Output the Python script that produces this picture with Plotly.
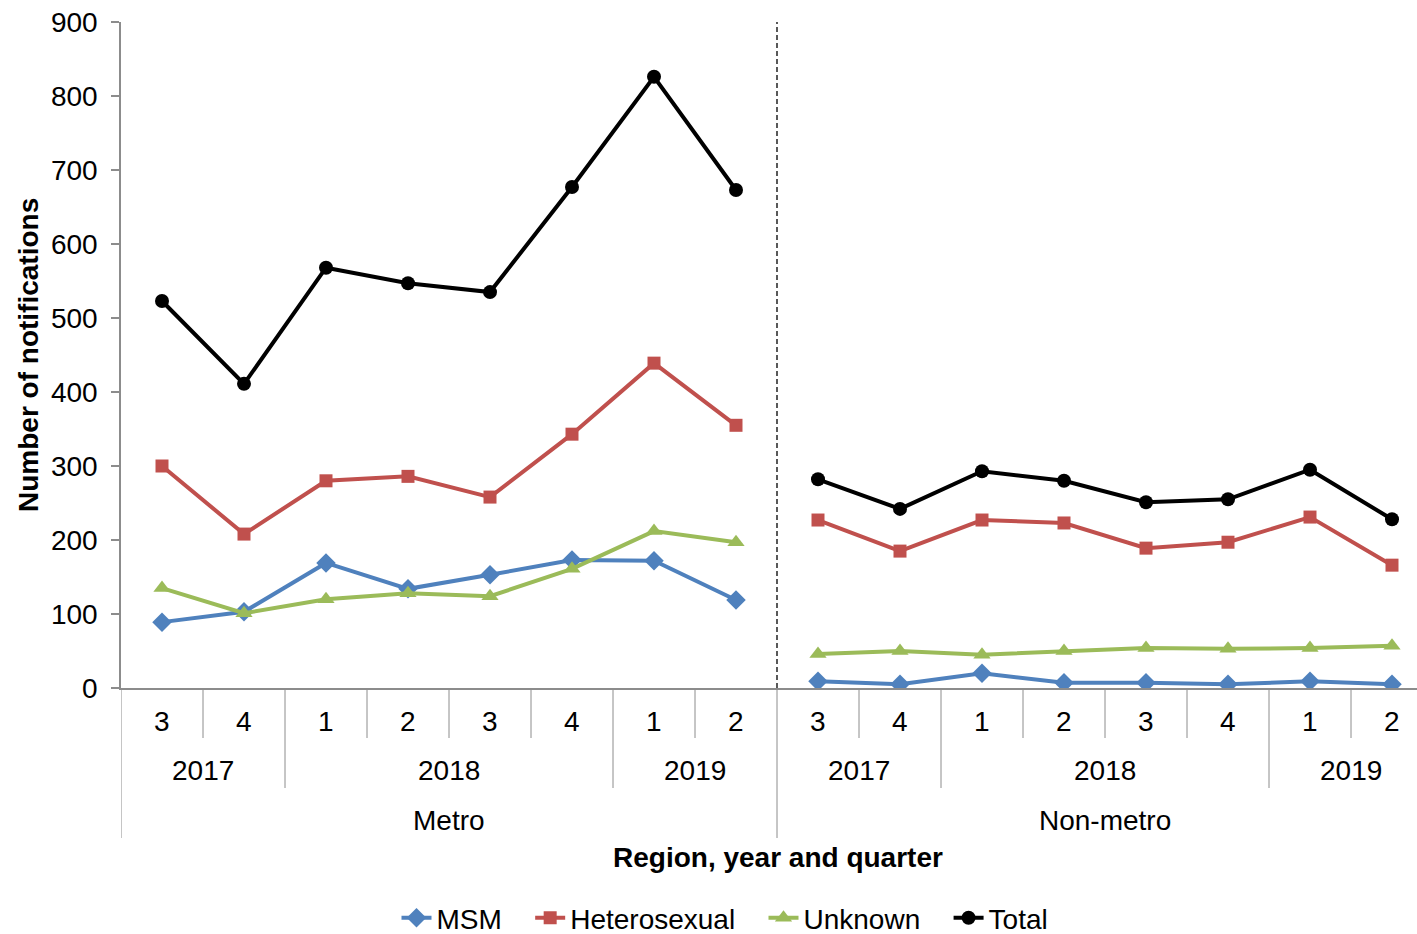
import plotly.graph_objects as go

# Quarterly notifications by region, year and quarter
regions = ["Metro", "Non-metro"]
years = ["2017", "2018", "2019"]
quarters = ["3", "4", "1", "2", "3", "4", "1", "2",
            "3", "4", "1", "2", "3", "4", "1", "2"]
quarter_years = ["2017", "2017", "2018", "2018", "2018", "2018", "2019", "2019"] * 2
quarter_regions = ["Metro"] * 8 + ["Non-metro"] * 8

msm = [89, 103, 169, 134, 153, 173, 172, 119,
       9, 5, 20, 7, 7, 5, 9, 5]
heterosexual = [300, 208, 280, 286, 258, 343, 439, 355,
                227, 185, 227, 223, 189, 197, 231, 166]
unknown = [135, 101, 120, 128, 124, 161, 212, 197,
           46, 50, 45, 50, 54, 53, 54, 57]
total = [523, 411, 568, 547, 535, 677, 826, 673,
         282, 242, 293, 280, 251, 255, 295, 228]

series = [
    ("MSM", msm, "#4F81BD", "diamond", 15),
    ("Heterosexual", heterosexual, "#C0504D", "square", 13),
    ("Unknown", unknown, "#9BBB59", "triangle-up", 15),
    ("Total", total, "#000000", "circle", 14),
]

FONT = "Liberation Sans, Arial, sans-serif"
FS = 28
AXIS_GREY = "#8C8C8C"
W, H = 1417, 934
M_L, M_T, M_B = 121, 22, 246
PLOT_W = W - M_L
PLOT_H = H - M_T - M_B
SPACING = 82.0  # pixels per category
AXIS_Y = H - M_B
NBSP = "\u00a0"

fig = go.Figure()

# one broken line per region so the two panels are not joined
for k, (name, vals, color, symbol, size) in enumerate(series):
    xs, ys = [], []
    for i, v in enumerate(vals):
        if i == 8:
            xs.append(None)
            ys.append(None)
        xs.append(i)
        ys.append(v)
    label = name if k == len(series) - 1 else name + NBSP * 3
    fig.add_trace(go.Scatter(
        x=xs, y=ys, name=label, mode="lines+markers",
        line=dict(color=color, width=4),
        marker=dict(symbol=symbol, size=size, color=color),
        connectgaps=False,
    ))


def py(pixels_below_axis):
    """Paper y coordinate for a distance in pixels below the x axis."""
    return -pixels_below_axis / PLOT_H


def px_x(pixel):
    return (pixel - M_L) / PLOT_W


def px_y(pixel):
    return (AXIS_Y - pixel) / PLOT_H


shapes = []
annotations = []
n = len(quarters)

# quarter separators
for i in range(n):
    b = i - 0.5
    shapes.append(dict(type="line", xref="x", yref="paper", x0=b, x1=b,
                       y0=0, y1=py(50), line=dict(color=AXIS_GREY, width=1)))

# year separators
for i in range(1, n):
    if quarter_years[i] != quarter_years[i - 1] or quarter_regions[i] != quarter_regions[i - 1]:
        b = i - 0.5
        shapes.append(dict(type="line", xref="x", yref="paper", x0=b, x1=b,
                           y0=py(50), y1=py(100), line=dict(color=AXIS_GREY, width=1)))

# region separators
for b in (-0.5, 7.5):
    shapes.append(dict(type="line", xref="x", yref="paper", x0=b, x1=b,
                       y0=py(100), y1=py(150), line=dict(color=AXIS_GREY, width=1)))
shapes.append(dict(type="line", xref="x", yref="paper", x0=-0.5, x1=-0.5,
                   y0=py(50), y1=py(100), line=dict(color=AXIS_GREY, width=1)))

# small tick of the category axis left of the value axis
shapes.append(dict(type="line", xref="paper", yref="y",
                   x0=-8 / PLOT_W, x1=0, y0=0, y1=0,
                   line=dict(color=AXIS_GREY, width=1.5)))

# dashed divider between the regions
shapes.append(dict(type="line", xref="x", yref="paper", x0=7.5, x1=7.5,
                   y0=0, y1=1, line=dict(color="black", width=1.3, dash="5px,3px")))

lbl_font = dict(family=FONT, size=FS, color="black")

for i, q in enumerate(quarters):
    annotations.append(dict(x=i, y=py(33), xref="x", yref="paper", text=q,
                            showarrow=False, font=lbl_font, yanchor="middle"))

# year labels centred over their quarters
i = 0
while i < n:
    j = i
    while j + 1 < n and quarter_years[j + 1] == quarter_years[i] and quarter_regions[j + 1] == quarter_regions[i]:
        j += 1
    annotations.append(dict(x=(i + j) / 2, y=py(82), xref="x", yref="paper",
                            text=quarter_years[i], showarrow=False,
                            font=lbl_font, yanchor="middle"))
    i = j + 1

for k, r in enumerate(regions):
    annotations.append(dict(x=3.5 + 8 * k, y=py(132), xref="x", yref="paper",
                            text=r, showarrow=False, font=lbl_font,
                            yanchor="middle"))

# axis titles
annotations.append(dict(x=px_x(778), y=px_y(858), xref="paper", yref="paper",
                        text="<b>Region, year and quarter</b>", showarrow=False,
                        font=dict(family=FONT, size=FS, color="black"),
                        yanchor="middle", xanchor="center"))
annotations.append(dict(x=px_x(28), y=px_y(355), xref="paper", yref="paper",
                        text="<b>Number of notifications</b>", showarrow=False,
                        textangle=-90,
                        font=dict(family=FONT, size=FS, color="black"),
                        yanchor="middle", xanchor="center"))

x_right = -0.5 + PLOT_W / SPACING

fig.update_layout(
    width=W, height=H,
    margin=dict(l=M_L, r=0, t=M_T, b=M_B),
    plot_bgcolor="white", paper_bgcolor="white",
    font=dict(family=FONT, size=FS, color="black"),
    showlegend=True,
    legend=dict(orientation="h", xref="container", yref="container",
                x=725 / W, xanchor="center", y=1 - 918 / H, yanchor="middle",
                font=dict(family=FONT, size=FS, color="black"),
                itemwidth=30, tracegroupgap=0, bgcolor="rgba(0,0,0,0)"),
    xaxis=dict(range=[-0.5, x_right], showticklabels=False, ticks="",
               showgrid=False, zeroline=False, showline=True,
               linecolor=AXIS_GREY, linewidth=1.5, fixedrange=True),
    yaxis=dict(range=[0, 900], dtick=100, tick0=0, ticks="outside", ticklen=8,
               tickcolor=AXIS_GREY, tickwidth=1.5, showgrid=False,
               zeroline=False, showline=True, linecolor=AXIS_GREY,
               linewidth=1.5, tickfont=dict(family=FONT, size=FS, color="black"),
               ticklabelstandoff=8, fixedrange=True),
    shapes=shapes,
    annotations=annotations,
)

fig.write_html("out.html")
